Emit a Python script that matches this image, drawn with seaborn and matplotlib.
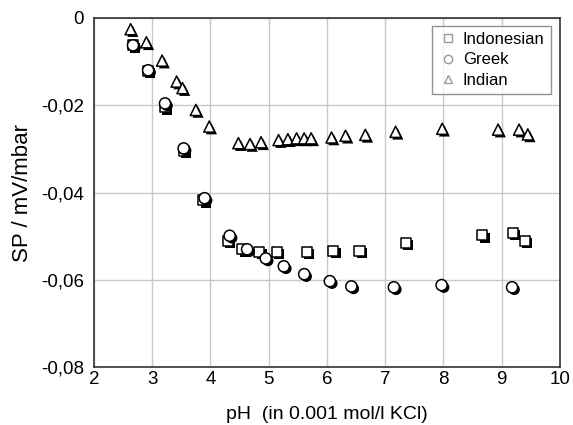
import pandas as pd
import matplotlib.pyplot as plt
import matplotlib.patheffects as pe
from matplotlib.lines import Line2D
import seaborn as sns

# Data
ph_indonesian = [2.67, 2.93, 3.22, 3.54, 3.88, 4.30, 4.55, 4.84, 5.14, 5.66, 6.11, 6.56, 7.35, 8.67, 9.19, 9.40]
sp_indonesian = [-0.0063, -0.0121, -0.0205, -0.0305, -0.0418, -0.0511, -0.0530, -0.0536, -0.0536, -0.0536,
                 -0.0533, -0.0533, -0.0515, -0.0498, -0.0492, -0.0511]

ph_greek = [2.67, 2.93, 3.22, 3.54, 3.90, 4.33, 4.63, 4.95, 5.26, 5.61, 6.05, 6.42, 7.15, 7.97, 9.18]
sp_greek = [-0.0063, -0.0120, -0.0196, -0.0299, -0.0413, -0.0499, -0.0530, -0.0551, -0.0569, -0.0587,
            -0.0603, -0.0615, -0.0617, -0.0612, -0.0617]

ph_indian = [2.63, 2.90, 3.17, 3.42, 3.52, 3.75, 3.98, 4.48, 4.68, 4.87, 5.17, 5.33, 5.48, 5.61, 5.73,
             6.08, 6.32, 6.66, 7.18, 7.98, 8.94, 9.30, 9.45]
sp_indian = [-0.0026, -0.0056, -0.0098, -0.0146, -0.0161, -0.0211, -0.0249, -0.0287, -0.0289, -0.0285,
             -0.0280, -0.0278, -0.0276, -0.0276, -0.0276, -0.0274, -0.0270, -0.0268, -0.0261, -0.0254,
             -0.0256, -0.0256, -0.0267]

x_ticks = [2, 3, 4, 5, 6, 7, 8, 9, 10]
y_ticks = [0, -0.02, -0.04, -0.06, -0.08]
y_tick_labels = ['0', '-0,02', '-0,04', '-0,06', '-0,08']

sns.set_style("white")
plt.rcParams['font.family'] = ['Liberation Sans', 'DejaVu Sans']
plt.rcParams['text.color'] = 'black'
plt.rcParams['axes.labelcolor'] = 'black'
plt.rcParams['xtick.color'] = 'black'
plt.rcParams['ytick.color'] = 'black'

fig, ax = plt.subplots(figsize=(5.73, 4.25), dpi=100)
fig.subplots_adjust(left=0.164, right=0.977, top=0.958, bottom=0.136)

shadow = [pe.SimplePatchShadow(offset=(1.6, -1.6), shadow_rgbFace='black', alpha=1.0), pe.Normal()]

series = [
    ("Indonesian", ph_indonesian, sp_indonesian, 's', 52),
    ("Greek", ph_greek, sp_greek, 'o', 64),
    ("Indian", ph_indian, sp_indian, '^', 64),
]
for name, xs, ys, m, size in series:
    df = pd.DataFrame({'pH': xs, 'SP': ys})
    sns.scatterplot(data=df, x='pH', y='SP', marker=m, s=size, color='white',
                    edgecolor='black', linewidth=1.1, ax=ax, zorder=3)
    ax.collections[-1].set_path_effects(shadow)

ax.set_xlim(2, 10)
ax.set_ylim(-0.08, 0)
ax.set_xticks(x_ticks)
ax.set_xticklabels([str(t) for t in x_ticks])
ax.set_yticks(y_ticks)
ax.set_yticklabels(y_tick_labels)
ax.tick_params(axis='both', length=0, labelsize=13.5)
ax.tick_params(axis='x', pad=3)
ax.tick_params(axis='y', pad=7)
ax.grid(True, color='#c8c8c8', linewidth=1.0)
ax.set_axisbelow(True)
for sp in ax.spines.values():
    sp.set_color('#333333')
    sp.set_linewidth(1.2)

ax.set_xlabel("pH  (in 0.001 mol/l KCl)", fontsize=14, labelpad=13)
ax.set_ylabel("SP / mV/mbar", fontsize=16, labelpad=6)

handles = [
    Line2D([], [], marker='s', linestyle='none', markersize=6, markerfacecolor='white', markeredgecolor='#999999'),
    Line2D([], [], marker='o', linestyle='none', markersize=6, markerfacecolor='white', markeredgecolor='#999999'),
    Line2D([], [], marker='^', linestyle='none', markersize=6, markerfacecolor='white', markeredgecolor='#999999'),
]
leg = ax.legend(handles, ["Indonesian", "Greek", "Indian"], loc='upper right', fontsize=12,
                frameon=True, fancybox=False, edgecolor='#777777', handletextpad=0.3,
                handlelength=1.2, borderpad=0.35, labelspacing=0.32, bbox_to_anchor=(0.998, 1.0))
leg.get_frame().set_linewidth(1.0)

plt.savefig("out.png", dpi=100)
